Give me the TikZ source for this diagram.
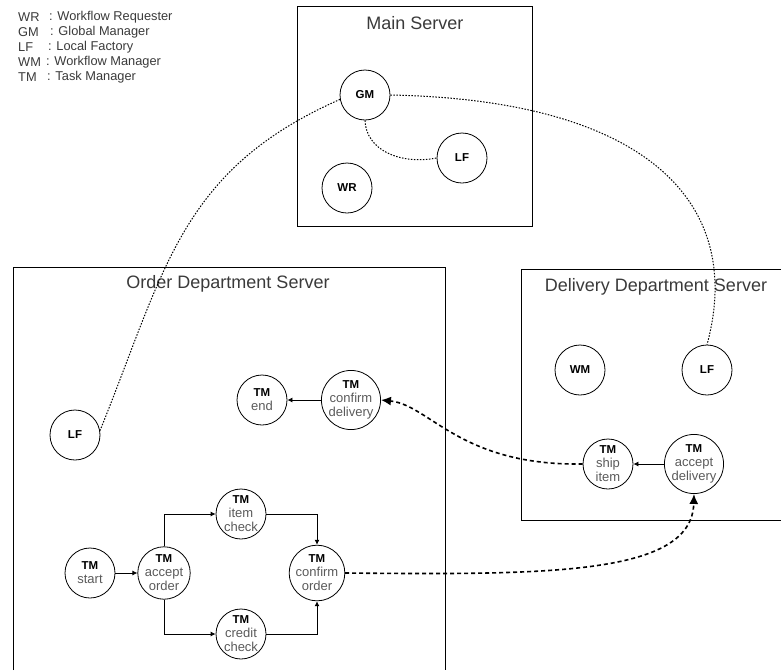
\documentclass[tikz,border=0pt]{standalone}
\usepackage{fontspec}
\setmainfont{Liberation Sans}
\usepackage{tikz}
\usetikzlibrary{arrows.meta}

\definecolor{subtext}{HTML}{5A5A5A}
\definecolor{titletext}{HTML}{3A3A3A}
\newcommand{\tmlabel}[1]{\textcolor{black}{\fontsize{11.5}{14}\selectfont\bfseries TM}\\#1}

\begin{document}
\begin{tikzpicture}[x=1pt, y=-1pt,
        agent/.style={draw=black, line width=0.8pt, circle, minimum size=50pt, inner sep=0pt, font=\fontsize{11.5}{13}\selectfont\bfseries},
        task/.style={draw=black, line width=0.8pt, circle, minimum size=50pt, inner sep=0pt, align=center, text=subtext, font=\fontsize{13}{14}\selectfont},
        server/.style={draw=black, line width=1pt},
        title/.style={text=titletext, font=\fontsize{18}{20}\selectfont},
        legend/.style={anchor=west, inner sep=0pt, text=titletext, font=\fontsize{12.8}{14}\selectfont},
        flow/.style={-{Latex[length=5pt,width=5pt]}, line width=0.8pt},
        link/.style={line width=1pt, dash pattern=on 1.5pt off 1.5pt},
        msg/.style={-{Latex[length=10pt,width=9pt]}, line width=1.6pt, dash pattern=on 4pt off 3pt}]
        \useasboundingbox (0,0) rectangle (781,670);

        % legend
        \node[legend] (kWR) at (18,17) {WR};
        \node[legend] (vWR) at (49,17) {: Workflow Requester};
        \node[legend] (kGM) at (18,32) {GM};
        \node[legend] (vGM) at (50,32) {: Global Manager};
        \node[legend] (kLF) at (18,47) {LF};
        \node[legend] (vLF) at (48,47) {: Local Factory};
        \node[legend] (kWM) at (18,62) {WM};
        \node[legend] (vWM) at (46,62) {: Workflow Manager};
        \node[legend] (kTM) at (18,77) {TM};
        \node[legend] (vTM) at (47,77) {: Task Manager};

        % servers
        \draw[server] (297,6) rectangle (532,226);
        \draw[server] (13,670) -- (13,267) -- (445,267) -- (445,670);
        \draw[server] (781,269) -- (521,269) -- (521,520) -- (781,520);
        \node[title] (mainT) at (415,23) {Main Server};
        \node[title] (orderT) at (228,284) {Order Department Server};
        \node[title] (deliT) at (656,287) {Delivery Department Server};

        % main server
        \node[agent] (GM) at (365,95) {GM};
        \node[agent] (LFm) at (462,158) {LF};
        \node[agent] (WR) at (347,188) {WR};

        % order department
        \node[agent] (LFo) at (75,435) {LF};
        \node[task] (TMend) at (262,400) {\tmlabel{end}};
        \node[task] (TMcd) at (351,400) {\tmlabel{confirm\\delivery}};
        \node[task] (TMstart) at (90,573) {\tmlabel{start}};
        \node[task] (TMao) at (164,573) {\tmlabel{accept\\order}};
        \node[task] (TMic) at (241,514) {\tmlabel{item\\check}};
        \node[task] (TMcc) at (241,634) {\tmlabel{credit\\check}};
        \node[task] (TMco) at (317,573) {\tmlabel{confirm\\order}};

        % delivery department
        \node[agent] (WM) at (580,370) {WM};
        \node[agent] (LFd) at (707,370) {LF};
        \node[task] (TMship) at (608,464) {\tmlabel{ship\\item}};
        \node[task] (TMacc) at (694,464) {\tmlabel{accept\\delivery}};

        % task flows
        \draw[flow] (TMstart) -- (TMao);
        \draw[flow] (TMao.north) |- (TMic.west);
        \draw[flow] (TMic.east) -| (TMco.north);
        \draw[flow] (TMao.south) |- (TMcc.west);
        \draw[flow] (TMcc.east) -| (TMco.south);
        \draw[flow] (TMcd) -- (TMend);
        \draw[flow] (TMacc) -- (TMship);

        % manager links
        \draw[link] (GM.190) .. controls (180,170) and (165,270) .. (LFo.10);
        \draw[link] (GM.south) .. controls (366,150) and (400,165) .. (LFm.west);
        \draw[link] (GM.east) .. controls (650,100) and (745,205) .. (LFd.north);

        % messages between servers
        \draw[msg] (TMco.east) .. controls (550,575) and (692,575) .. (TMacc.south);
        \draw[msg] (TMship.west) .. controls (460,466) and (430,405) .. (TMcd.east);
\end{tikzpicture}
\end{document}
